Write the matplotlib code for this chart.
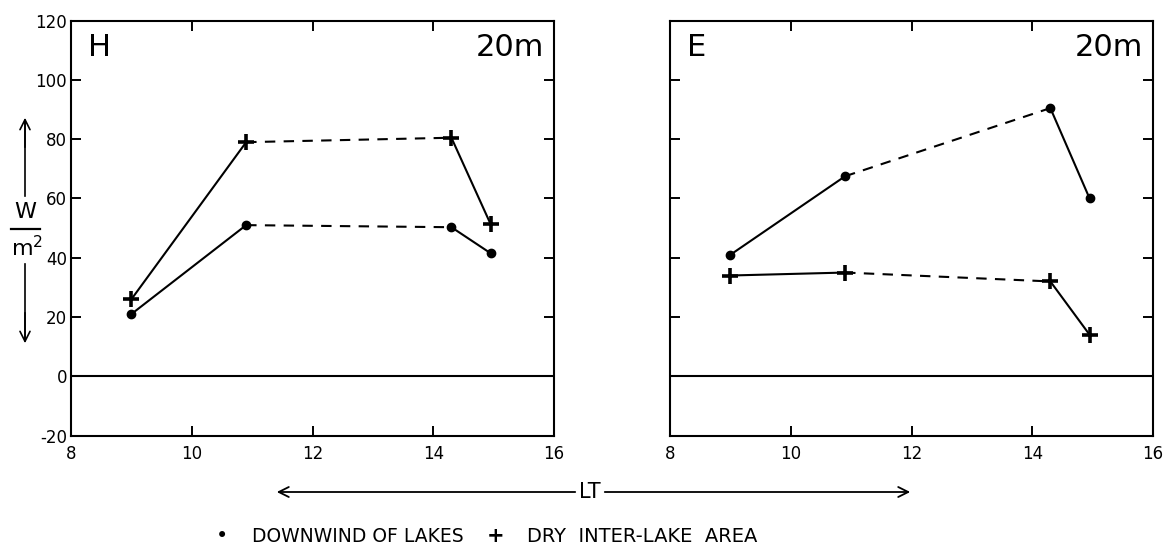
import matplotlib
matplotlib.use('Agg')
import matplotlib.pyplot as plt
from matplotlib import rcParams

rcParams['font.family'] = ['DejaVu Sans']
rcParams['axes.unicode_minus'] = False

# local time of the four flights
lt = [9.0, 10.9, 14.3, 14.95]
# H, 20 m
h_downwind = [21, 51, 50.3, 41.5]
h_dry = [26, 79, 80.5, 51.3]
# E, 20 m
e_downwind = [41, 67.5, 90.5, 60]
e_dry = [34, 35, 32, 14]

xticks = [8, 10, 12, 14, 16]
yticks = [-20, 0, 20, 40, 60, 80, 100, 120]
panels = [('H', h_downwind, h_dry), ('E', e_downwind, e_dry)]

fig = plt.figure(figsize=(11.63, 5.56), dpi=100)
ax_pos = [[0.0611, 0.2167, 0.4153, 0.7461], [0.5761, 0.2167, 0.4153, 0.7461]]

dash = (0, (5, 4))

def seg_plot(ax, x, y, marker, ms, mew):
    # first and last segments solid, the middle one dashed
    ax.plot(x[0:2], y[0:2], color='black', lw=1.5, ls='-')
    ax.plot(x[1:3], y[1:3], color='black', lw=1.5, ls=dash)
    ax.plot(x[2:4], y[2:4], color='black', lw=1.5, ls='-')
    ax.plot(x, y, ls='none', marker=marker, ms=ms, mew=mew, color='black',
            zorder=5)

for i, (name, down, dry) in enumerate(panels):
    ax = fig.add_axes(ax_pos[i])
    seg_plot(ax, lt, down, 'o', 6, 1)
    seg_plot(ax, lt, dry, '+', 11, 2.6)
    ax.axhline(0, color='black', lw=1.5)
    ax.set_xlim(8, 16)
    ax.set_ylim(-20, 120)
    ax.set_xticks(xticks)
    ax.set_yticks(yticks)
    ax.tick_params(direction='in', length=7, width=1.4, top=True, right=True,
                   labelsize=12)
    ax.tick_params(axis='y', pad=3)
    ax.tick_params(axis='x', pad=7)
    if i == 1:
        ax.set_yticklabels([])
    for s in ax.spines.values():
        s.set_linewidth(1.5)
    ax.text(0.035, 0.935, name, transform=ax.transAxes, fontsize=22,
            ha='left', va='center')
    ax.text(0.98, 0.935, '20m', transform=ax.transAxes, fontsize=22,
            ha='right', va='center')

# y label: W / m2 with arrows
xl = 25 / 1163
fig.text(xl, 1 - 212 / 556, 'W', fontsize=16, ha='center', va='center')
fig.text(xl + 0.002, 1 - 248 / 556, 'm$^2$', fontsize=16, ha='center', va='center')
fig.add_artist(plt.Line2D([11 / 1163, 40 / 1163], [1 - 229 / 556, 1 - 229 / 556],
                          color='black', lw=1.6))
fig.add_artist(plt.Line2D([xl, xl], [1 - 122 / 556, 1 - 196 / 556],
                          color='black', lw=1.2))
fig.add_artist(plt.Line2D([xl, xl], [1 - 264 / 556, 1 - 340 / 556],
                          color='black', lw=1.2))
plt.annotate('', xy=(xl, 1 - 115 / 556), xytext=(xl, 1 - 150 / 556),
             xycoords='figure fraction',
             arrowprops=dict(arrowstyle='->', lw=1.2, color='black', mutation_scale=18))
plt.annotate('', xy=(xl, 1 - 346 / 556), xytext=(xl, 1 - 310 / 556),
             xycoords='figure fraction',
             arrowprops=dict(arrowstyle='->', lw=1.2, color='black', mutation_scale=18))

# LT double arrow
y_lt = 1 - 492 / 556
plt.annotate('', xy=(274 / 1163, y_lt), xytext=(578 / 1163, y_lt),
             xycoords='figure fraction',
             arrowprops=dict(arrowstyle='->', lw=1.3, color='black', mutation_scale=18))
plt.annotate('', xy=(913 / 1163, y_lt), xytext=(602 / 1163, y_lt),
             xycoords='figure fraction',
             arrowprops=dict(arrowstyle='->', lw=1.3, color='black', mutation_scale=18))
fig.text(590 / 1163, y_lt, 'LT', fontsize=15, ha='center', va='center')

# legend line
y_leg = 1 - 536 / 556
fig.text(222 / 1163, y_leg, '\u2022', fontsize=15, ha='center', va='center')
fig.text(252 / 1163, y_leg, 'DOWNWIND OF LAKES', fontsize=13.5, ha='left', va='center')
fig.text(496 / 1163, y_leg, '+', fontsize=15, ha='center', va='center',
         fontweight='bold')
fig.text(527 / 1163, y_leg, 'DRY  INTER-LAKE  AREA', fontsize=14, ha='left', va='center')

fig.savefig('out.png', dpi=100)
